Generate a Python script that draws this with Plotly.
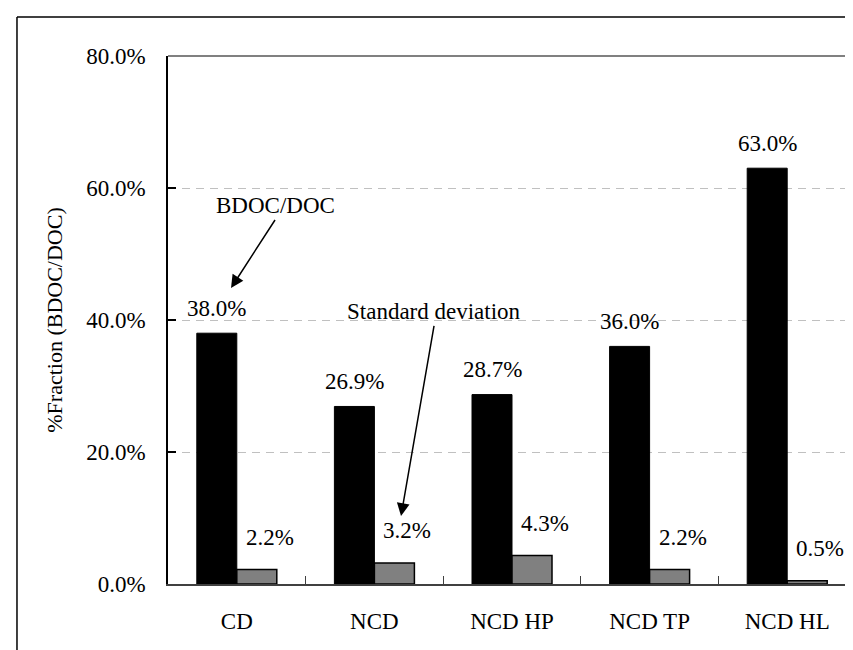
import plotly.graph_objects as go

# ---- data ----
categories = ["CD", "NCD", "NCD HP", "NCD TP", "NCD HL"]
bdoc_doc = [38.0, 26.9, 28.7, 36.0, 63.0]          # % fraction BDOC/DOC
std_dev = [2.2, 3.2, 4.3, 2.2, 0.5]                # standard deviation (%)
y_ticks = [0, 20, 40, 60, 80]
y_tick_labels = ["0.0%", "20.0%", "40.0%", "60.0%", "80.0%"]

FONT = "Liberation Serif"

fig = go.Figure()
fig.add_trace(go.Bar(
    x=categories, y=bdoc_doc, name="BDOC/DOC",
    marker=dict(color="black", line=dict(color="black", width=1)),
))
fig.add_trace(go.Bar(
    x=categories, y=std_dev, name="Standard deviation",
    marker=dict(color="#808080", line=dict(color="black", width=1.5)),
))

annotations = []
for c, v in zip(categories, bdoc_doc):
    annotations.append(dict(x=c, y=v, xref="x", yref="y", text=f"{v:.1f}%",
                            showarrow=False, xshift=-20, yshift=25,
                            font=dict(family=FONT, size=23, color="black")))
for c, v in zip(categories, std_dev):
    annotations.append(dict(x=c, y=v, xref="x", yref="y", text=f"{v:.1f}%",
                            showarrow=False, xshift=33, yshift=32,
                            font=dict(family=FONT, size=23, color="black")))

# pointer annotations
annotations.append(dict(x=0.0916, y=0.5606, xref="paper", yref="paper",
                        text="BDOC/DOC", showarrow=True, arrowhead=2,
                        arrowsize=1.7, arrowwidth=1.5, arrowcolor="black",
                        ax=44, ay=-68, standoff=0,
                        font=dict(family=FONT, size=23, color="black"),
                        yanchor="bottom", xanchor="center"))
annotations.append(dict(x=0.3387, y=0.1288, xref="paper", yref="paper",
                        text="Standard deviation", showarrow=True, arrowhead=2,
                        arrowsize=1.7, arrowwidth=1.5, arrowcolor="black",
                        ax=33, ay=-190, standoff=0,
                        font=dict(family=FONT, size=23, color="black"),
                        yanchor="bottom", xanchor="center"))

shapes = [
    # top border of plot area (gray)
    dict(type="line", xref="paper", yref="paper", x0=0, x1=1, y0=1, y1=1,
         line=dict(color="#808080", width=2)),
    # right border of plot area
    dict(type="line", xref="paper", yref="paper", x0=1, x1=1, y0=0, y1=1,
         line=dict(color="black", width=1.5)),
    # outer chart frame (left and top edges visible)
    dict(type="line", xref="paper", yref="paper", x0=-0.2195, x1=-0.2195,
         y0=-0.3, y1=1.0739, line=dict(color="black", width=1.5)),
    dict(type="line", xref="paper", yref="paper", x0=-0.2195, x1=1.2,
         y0=1.0739, y1=1.0739, line=dict(color="black", width=1.5)),
]

fig.update_layout(
    width=853, height=650,
    margin=dict(l=160, r=5, t=48, b=74),
    paper_bgcolor="white", plot_bgcolor="white",
    barmode="group", bargap=0.4186, bargroupgap=0,
    showlegend=False,
    font=dict(family=FONT, size=23, color="black"),
    annotations=annotations, shapes=shapes,
)
fig.update_xaxes(
    type="category", showline=True, linecolor="#404040", linewidth=2,
    ticks="inside", tickson="boundaries", ticklen=8, tickcolor="#404040",
    tickwidth=1, showgrid=False, ticklabelstandoff=15,
    tickfont=dict(family=FONT, size=23, color="black"),
)
fig.update_yaxes(
    range=[0, 80], tickvals=y_ticks, ticktext=y_tick_labels,
    showline=True, linecolor="black", linewidth=1.5,
    ticks="inside", ticklen=8, tickcolor="black", tickwidth=1.5,
    showgrid=True, gridcolor="#c0c0c0", gridwidth=1, griddash="8px,6px",
    zeroline=False, ticklabelstandoff=16,
    tickfont=dict(family=FONT, size=23, color="black"),
    title=dict(text="%Fraction (BDOC/DOC)", standoff=18,
               font=dict(family=FONT, size=22, color="black")),
)

fig.write_html("out.html")
